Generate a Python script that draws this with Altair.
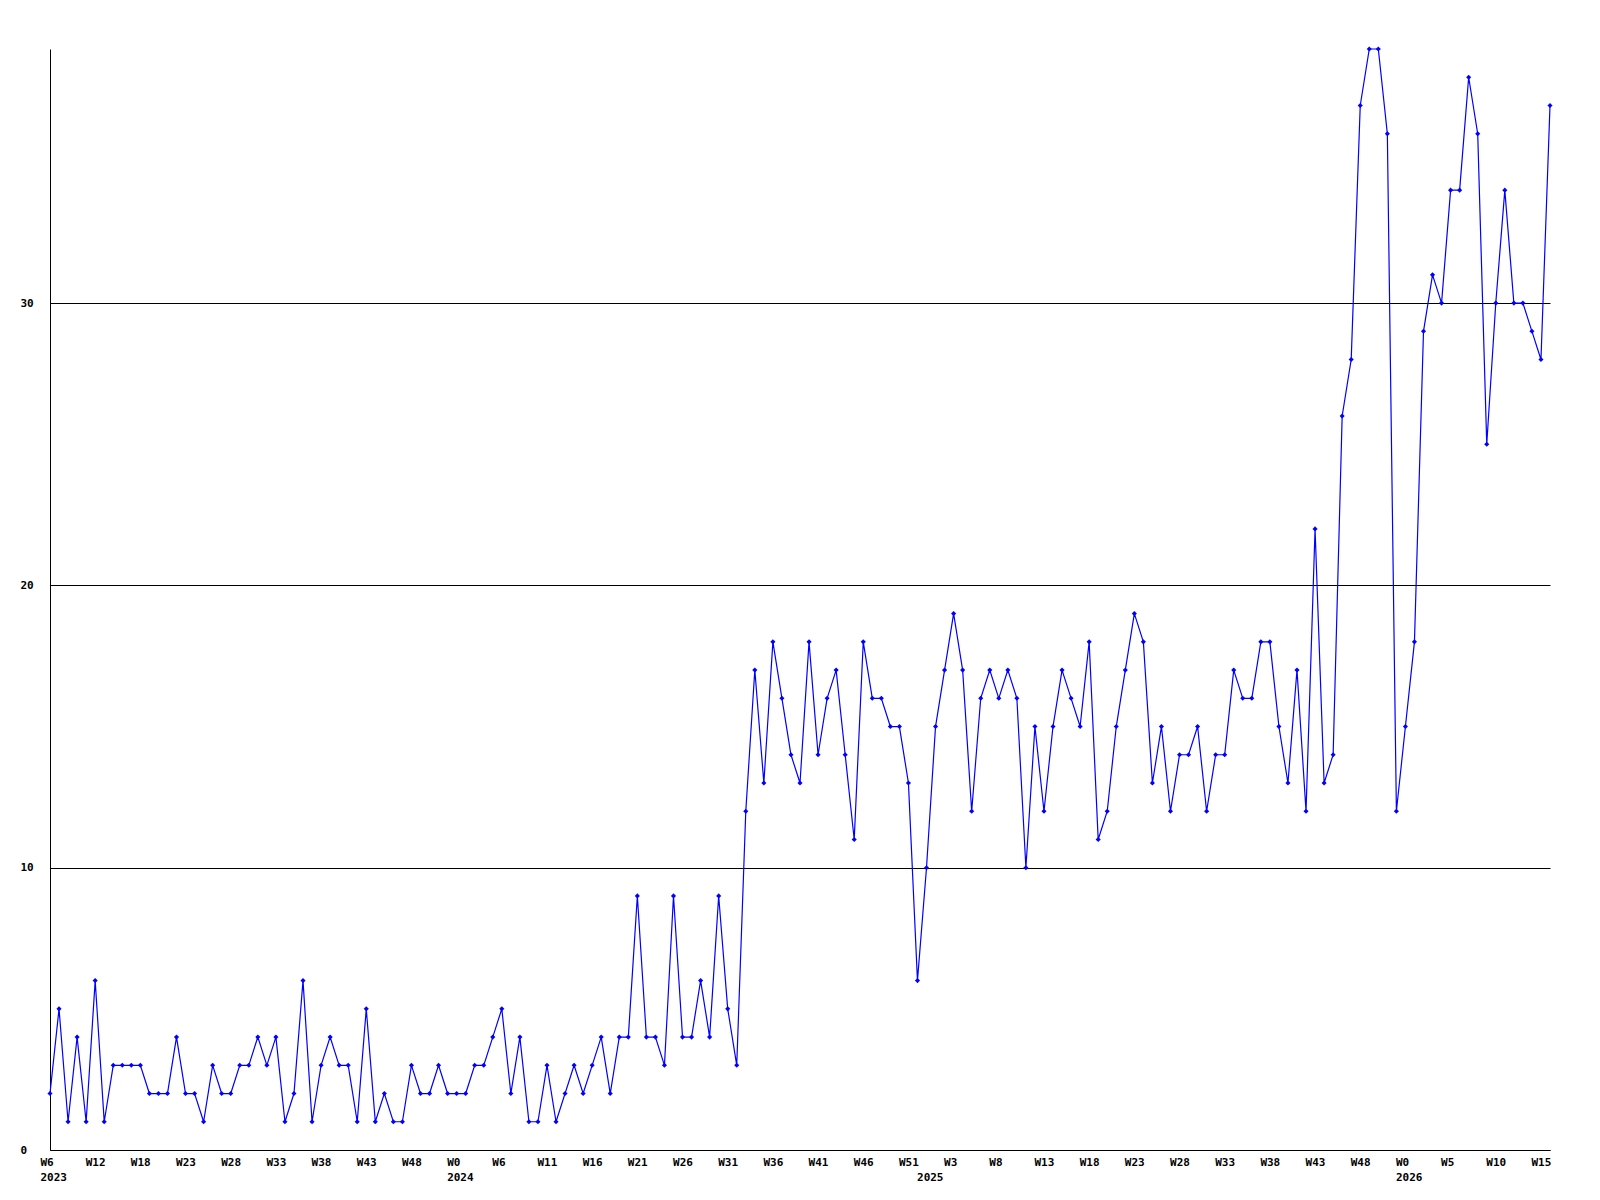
import json
import altair as alt
import pandas as pd

# Weekly values, one per week from 2023 W6 onward
values = [
    2, 5, 1, 4, 1, 6, 1, 3, 3, 3, 3, 2, 2, 2, 4, 2, 2, 1, 3, 2, 2, 3, 3, 4, 3, 4, 1, 2,
    6, 1, 3, 4, 3, 3, 1, 5, 1, 2, 1, 1, 3, 2, 2, 3, 2, 2, 2, 3, 3, 4, 5, 2, 4, 1, 1,
    3, 1, 2, 3, 2, 3, 4, 2, 4, 4, 9, 4, 4, 3, 9, 4, 4, 6, 4, 9, 5, 3,
    12, 17, 13, 18, 16, 14, 13, 18, 14, 16, 17, 14, 11, 18, 16, 16, 15, 15, 13, 6, 10, 15, 17, 19, 17, 12, 16,
    17, 16, 17, 16, 10, 15, 12, 15, 17, 16, 15, 18, 11, 12, 15, 17, 19, 18, 13, 15, 12, 14, 14, 15,
    12, 14, 14, 17, 16, 16, 18, 18, 15, 13, 17, 12, 22, 13, 14, 26,
    28, 37, 39, 39, 36, 12, 15, 18, 29, 31, 30, 34, 34, 38, 36, 25, 30, 34, 30, 30, 29, 28, 37,
]

# x-axis tick labels (every 5th week) and year labels
week_ticks = list(range(0, 166, 5))
week_labels = [
    "W6", "W12", "W18", "W23", "W28", "W33", "W38", "W43", "W48",
    "W0", "W6", "W11", "W16", "W21", "W26", "W31", "W36", "W41", "W46", "W51",
    "W3", "W8", "W13", "W18", "W23", "W28", "W33", "W38", "W43", "W48",
    "W0", "W5", "W10", "W15",
]
year_ticks = [0, 45, 97, 150]
year_labels = ["2023", "2024", "2025", "2026"]

y_ticks = [0, 10, 20, 30]

df = pd.DataFrame({"i": list(range(len(values))), "v": values})

# build tick values and multi-line labels
tick_vals = []
tick_texts = []
for t, w in zip(week_ticks, week_labels):
    lines = [w]
    if t in year_ticks:
        lines.append(year_labels[year_ticks.index(t)])
    tick_vals.append(t)
    tick_texts.append(lines)
for t, y in zip(year_ticks, year_labels):
    if t not in week_ticks:
        tick_vals.append(t)
        tick_texts.append(["", y])

label_expr = f"{json.dumps(tick_texts)}[indexof({json.dumps(tick_vals)}, datum.value)]"

FONT = "DejaVu Sans Mono"

x_enc = alt.X(
    "i:Q",
    scale=alt.Scale(domain=[0, len(values) - 1], nice=False, zero=False),
    axis=alt.Axis(
        values=tick_vals,
        labelExpr=label_expr,
        title=None,
        grid=False,
        ticks=False,
        domain=True,
        domainColor="black",
        domainWidth=1,
        labelAlign="left",
        labelBaseline="top",
        labelOffset=-10,
        labelPadding=6,
        labelLineHeight=15,
        labelOverlap=False,
        labelFlush=False,
        labelFont=FONT,
        labelFontSize=11,
        labelFontWeight="bold",
        labelColor="black",
    ),
)
y_enc = alt.Y(
    "v:Q",
    scale=alt.Scale(domain=[0, 39], nice=False, zero=True),
    axis=alt.Axis(
        values=y_ticks,
        title=None,
        grid=True,
        gridColor="black",
        gridWidth=1,
        gridOpacity=1,
        ticks=False,
        domain=True,
        domainColor="black",
        domainWidth=1,
        labelAlign="left",
        labelBaseline="middle",
        labelPadding=30,
        labelFont=FONT,
        labelFontSize=11,
        labelFontWeight="bold",
        labelColor="black",
    ),
)

base = alt.Chart(df).encode(x=x_enc, y=y_enc)
line = base.mark_line(color="#0000ff", strokeWidth=1.2)
pts = base.mark_point(shape="diamond", filled=True, color="#0000ff", size=26, opacity=1)

chart = (
    alt.layer(line, pts)
    .properties(
        width=1500,
        height=1101,
        padding={"left": 42, "top": 41, "right": 42, "bottom": 50},
        autosize=alt.AutoSizeParams(type="none"),
        background="white",
    )
    .configure_view(strokeWidth=0)
)

chart.save("out.html", embed_options={"renderer": "svg", "actions": False})
